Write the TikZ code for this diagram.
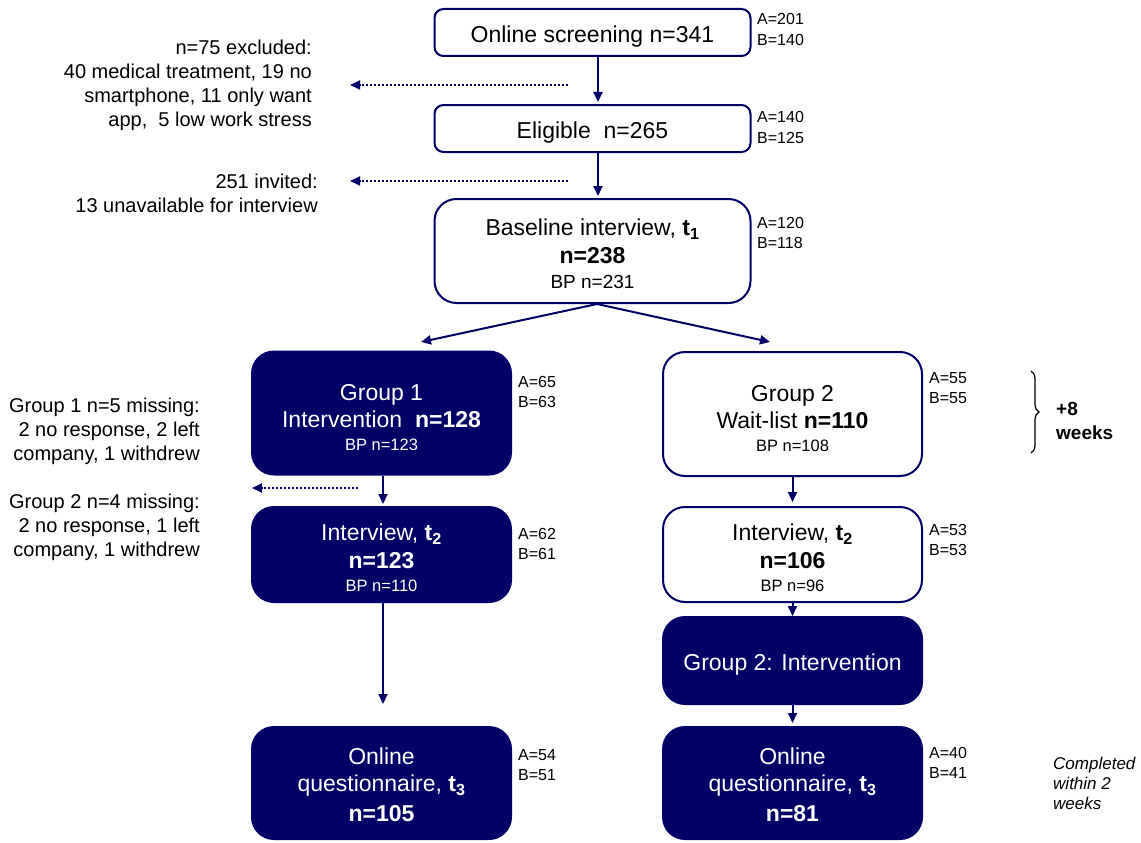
\documentclass[tikz,border=0pt]{standalone}
\usepackage{fontspec}
\setmainfont{Liberation Sans}
\usetikzlibrary{arrows.meta,decorations.pathreplacing}
\definecolor{navy}{RGB}{0,0,102}

\tikzset{
  box/.style={draw=navy, line width=2pt, rounded corners=9pt, fill=white, align=center, inner sep=0pt,
    font=\fontsize{23}{27}\selectfont, execute at begin node={\rule{0pt}{24.5pt}}},
  bigbox/.style={box, rounded corners=22pt},
  darkbox/.style={bigbox, fill=navy, text=white},
  abcount/.style={anchor=west, align=left, inner sep=0pt, font=\fontsize{16}{20.5}\selectfont},
  lostnote/.style={anchor=east, align=right, inner sep=0pt, font=\fontsize{20}{24}\selectfont},
  flow/.style={->, draw=navy, line width=2pt, shorten >=2pt},
  drop/.style={->, draw=navy, line width=2pt, dotted},
}
\newcommand{\bp}[1]{{\fontsize{16.5}{20}\selectfont BP n=#1}}
\newcommand{\topgap}[1]{\rule{0pt}{#1}}

\begin{document}
\begin{tikzpicture}[x=1pt,y=-1pt,>={Triangle[length=10pt,width=9pt]}]
\useasboundingbox (0,0) rectangle (1141,843);
% top column
\node[box, minimum width=316pt, minimum height=47pt] (screen) at (592.5,32.5) {Online screening n=341};
\node[box, minimum width=316pt, minimum height=47pt] (elig) at (592.5,128.5) {Eligible\ \ n=265};
\node[bigbox, minimum width=316pt, minimum height=104pt] (base) at (592.5,251) {\topgap{23pt}Baseline interview, \textbf{t\textsubscript{1}}\\[1pt] \textbf{n=238}\\[-2pt] {\fontsize{19}{22}\selectfont BP n=231}};
% group 1 column
\node[darkbox, minimum width=259pt, minimum height=123pt] (g1) at (381.5,413) {\topgap{25pt}Group 1\\ Intervention\ \ \textbf{n=128}\\[-4pt] \bp{123}};
\node[darkbox, minimum width=259pt, minimum height=95pt] (int1) at (381.5,554.5) {\topgap{23pt}Interview, \textbf{t\textsubscript{2}}\\[1pt] \textbf{n=123}\\[-4pt] \bp{110}};
\node[darkbox, minimum width=259pt, minimum height=112pt] (q1) at (381.5,783) {\topgap{21pt}Online\\ questionnaire, \textbf{t\textsubscript{3}}\\[3pt] \textbf{n=105}};
% group 2 column
\node[bigbox, minimum width=259pt, minimum height=124pt] (g2) at (792.5,414) {\topgap{25pt}Group 2\\ Wait-list \textbf{n=110}\\[-4pt] \bp{108}};
\node[bigbox, minimum width=259pt, minimum height=95pt] (int2) at (792.5,554.5) {\topgap{23pt}Interview, \textbf{t\textsubscript{2}}\\[1pt] \textbf{n=106}\\[-4pt] \bp{96}};
\node[darkbox, minimum width=259pt, minimum height=87pt] (g2int) at (792.5,660.5) {Group 2: Intervention};
\node[darkbox, minimum width=259pt, minimum height=112pt] (q2) at (792.5,783) {\topgap{21pt}Online\\ questionnaire, \textbf{t\textsubscript{3}}\\[3pt] \textbf{n=81}};
% A / B counts
\node[abcount] (abscreen) at (757,29.5) {A=201\\ B=140};
\node[abcount] (abelig) at (757,127.5) {A=140\\ B=125};
\node[abcount] (abbase) at (757,233) {A=120\\ B=118};
\node[abcount] (abg1) at (518,392) {A=65\\ B=63};
\node[abcount] (abint1) at (518,544) {A=62\\ B=61};
\node[abcount] (abq1) at (518,765) {A=54\\ B=51};
\node[abcount] (abg2) at (929,388) {A=55\\ B=55};
\node[abcount] (abint2) at (929,540) {A=53\\ B=53};
\node[abcount] (abq2) at (929,763) {A=40\\ B=41};
% losses on the left
\node[lostnote] (excl) at (312,85) {n=75 excluded:\\ 40 medical treatment, 19 no\\ smartphone, 11 only want\\ app,\ \ 5 low work stress};
\node[lostnote] (invit) at (318,193) {251 invited:\\ 13 unavailable for interview};
\node[lostnote] (miss1) at (200,431) {Group 1 n=5 missing:\\ 2 no response, 2 left\\ company, 1 withdrew};
\node[lostnote] (miss2) at (200,527.5) {Group 2 n=4 missing:\\ 2 no response, 1 left\\ company, 1 withdrew};
% notes on the right
\draw[decorate, decoration={brace, amplitude=8pt}, line width=1.2pt] (1031,371) -- (1031,453);
\node[anchor=west, align=left, inner sep=0pt, font=\fontsize{19}{24}\bfseries\selectfont] (weeks) at (1056,421) {+8\\ weeks};
\node[anchor=west, align=left, inner sep=0pt, font=\fontsize{17}{20}\itshape\selectfont] (within) at (1053,783) {Completed\\ within 2\\ weeks};
% connectors
\coordinate (g1in) at (421,342);
\coordinate (g2in) at (770,342);
\draw[flow] ([xshift=5.5pt]screen.south) -- ([xshift=5.5pt]elig.north);
\draw[flow] ([xshift=5.5pt]elig.south) -- ([xshift=5.5pt]base.north);
\draw[flow, shorten >=0pt] ([xshift=4.5pt]base.south) -- (g1in);
\draw[flow, shorten >=0pt] ([xshift=4.5pt]base.south) -- (g2in);
\draw[flow] ([xshift=1.5pt]g1.south) -- ([xshift=1.5pt]int1.north);
\draw[flow] ([xshift=1.5pt]int1.south) -- ([xshift=1.5pt,yshift=20pt]q1.north);
\draw[flow, shorten >=4pt] (g2.south) -- (int2.north);
\draw[flow, shorten >=0pt] (int2.south) -- (g2int.north);
\draw[flow, shorten >=3pt] (g2int.south) -- (q2.north);
% dotted drop-outs
\coordinate (dropa) at (568,85);
\coordinate (dropb) at (568,181);
\coordinate (dropc) at (358,488);
\coordinate (enda) at (350,85);
\coordinate (endb) at (350,181);
\coordinate (endc) at (252,488);
\draw[drop] (dropa) -- (enda);
\draw[drop] (dropb) -- (endb);
\draw[drop] (dropc) -- (endc);
\end{tikzpicture}
\end{document}
